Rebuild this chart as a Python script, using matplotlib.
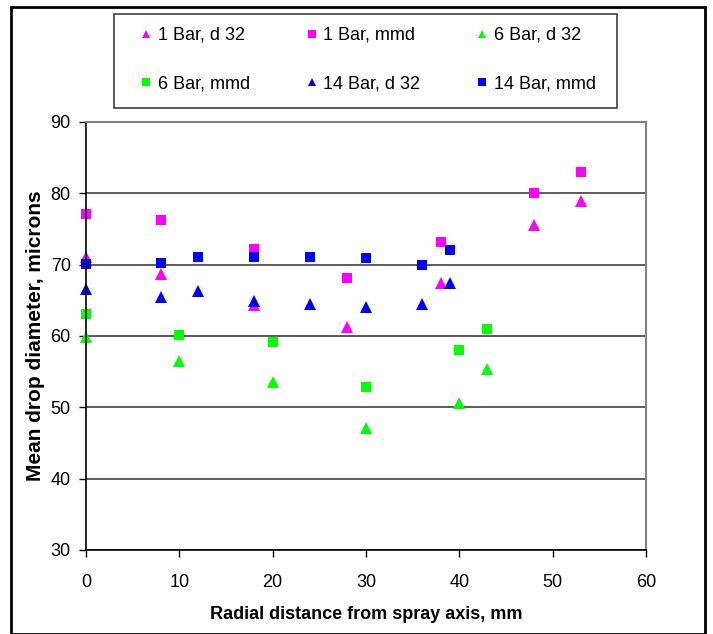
import matplotlib.pyplot as plt
from matplotlib.patches import Rectangle

plt.rcParams['font.family'] = ['Liberation Sans', 'DejaVu Sans']

# 1 Bar
x_1bar = [0, 8, 18, 28, 38, 48, 53]
d32_1bar = [71.1, 68.7, 64.3, 61.2, 67.4, 75.6, 78.9]
mmd_1bar = [77.1, 76.3, 72.2, 68.1, 73.2, 80.0, 83.0]

# 6 Bar
x_6bar = [0, 10, 20, 30, 40, 43]
d32_6bar = [59.8, 56.5, 53.5, 47.1, 50.6, 55.4]
mmd_6bar = [63.1, 60.1, 59.2, 52.8, 58.0, 61.0]

# 14 Bar
x_14bar = [0, 8, 12, 18, 24, 30, 36, 39]
d32_14bar = [66.6, 65.5, 66.3, 64.9, 64.5, 64.1, 64.5, 67.4]
mmd_14bar = [70.1, 70.2, 71.1, 71.1, 71.1, 71.0, 70.0, 72.0]

fig = plt.figure(figsize=(7.13, 6.34), dpi=100)
ax = fig.add_axes([86/713, 1 - 550/634, 560/713, 428/634])

tri = dict(marker='^', linestyle='none', markersize=8, markeredgewidth=0)
sq = dict(marker='s', linestyle='none', markersize=7, markeredgewidth=0)

h = []
h += ax.plot(x_1bar, d32_1bar, color='#ff00ff', label='1 Bar, d 32', **tri)
h += ax.plot(x_1bar, mmd_1bar, color='#ff00ff', label='1 Bar, mmd', **sq)
h += ax.plot(x_6bar, d32_6bar, color='#00ff00', label='6 Bar, d 32', **tri)
h += ax.plot(x_6bar, mmd_6bar, color='#00ff00', label='6 Bar, mmd', **sq)
h += ax.plot(x_14bar, d32_14bar, color='#0000ff', label='14 Bar, d 32', **tri)
h += ax.plot(x_14bar, mmd_14bar, color='#0000ff', label='14 Bar, mmd', **sq)

ax.set_xlim(0, 60)
ax.set_ylim(30, 90)
ax.set_xticks(range(0, 61, 10))
ax.set_yticks(range(30, 91, 10))
ax.yaxis.grid(True, color='#404040', linewidth=1.2)
ax.set_axisbelow(True)
ax.tick_params(labelsize=13, length=5, width=1, color='black', pad=6)
ax.tick_params(axis='x', pad=12)

for s in ['left', 'bottom']:
    ax.spines[s].set_color('black')
    ax.spines[s].set_linewidth(1.2)
for s in ['top', 'right']:
    ax.spines[s].set_color('#808080')
    ax.spines[s].set_linewidth(1.5)
for p in ax.get_lines():
    p.set_clip_on(False)

ax.set_xlabel('Radial distance from spray axis, mm', fontsize=13,
              fontweight='bold', labelpad=11)
ax.set_ylabel('Mean drop diameter, microns', fontsize=15,
              fontweight='bold', labelpad=4)

# legend filled column by column, so reorder to read row by row
order = [0, 3, 1, 4, 2, 5]
leg = fig.legend([h[i] for i in order], [h[i].get_label() for i in order],
                 loc='upper left', bbox_to_anchor=(141/713, 1 - 27/634),
                 ncol=3, fontsize=13, frameon=False,
                 handlelength=0.6, handletextpad=0.35,
                 columnspacing=3.1, borderpad=0, labelspacing=1.75,
                 borderaxespad=0)
for lh in leg.legend_handles:
    lh.set_markersize(6)

fig.patches.append(Rectangle((114/713, 1 - 108/634), 503/713, 94/634,
                             transform=fig.transFigure, fill=False,
                             edgecolor='#404040', linewidth=1.2))
fig.patches.append(Rectangle((11/713, 0), 694/713, 1 - 7/634,
                             transform=fig.transFigure, fill=False,
                             edgecolor='black', linewidth=2))

fig.savefig('out.png', dpi=100)
